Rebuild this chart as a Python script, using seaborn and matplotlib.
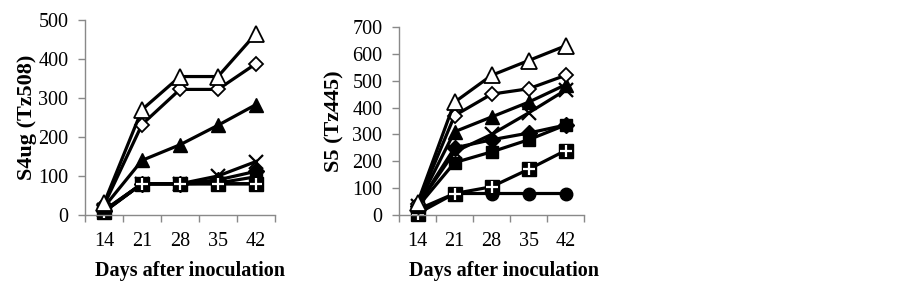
import numpy as np
import pandas as pd
import matplotlib
matplotlib.use("Agg")
import matplotlib.pyplot as plt
import seaborn as sns

days = ["14", "21", "28", "35", "42"]

# S4ug (Tz508)
s4_open_tri = [30, 270, 355, 355, 465]
s4_open_dia = [25, 232, 322, 322, 388]
s4_fill_tri = [20, 140, 180, 230, 283]
s4_cross = [12, 80, 80, 100, 137]
s4_fill_dia = [10, 80, 80, 90, 112]
s4_fill_sq = [10, 80, 80, 82, 98]
s4_circle = [8, 80, 80, 80, 80]
s4_sq_plus = [8, 80, 80, 80, 80]

# S5 (Tz445)
s5_open_tri = [45, 420, 520, 575, 630]
s5_open_dia = [40, 370, 450, 470, 520]
s5_fill_tri = [38, 310, 365, 420, 485]
s5_cross = [35, 235, 300, 380, 465]
s5_fill_dia = [35, 250, 280, 305, 335]
s5_fill_sq = [30, 195, 235, 280, 335]
s5_circle = [20, 80, 80, 80, 80]
s5_sq_plus = [5, 80, 105, 170, 240]

plt.rcParams['font.family'] = ['Liberation Serif', 'DejaVu Serif']

# marker, face colour, size, edge width
styles = {
    'open_tri': ('^', 'white', 11, 1.3),
    'open_dia': ('D', 'white', 7.5, 1.3),
    'fill_tri': ('^', 'black', 10, 1.0),
    'cross': ('x', 'black', 10, 1.6),
    'fill_dia': ('D', 'black', 8, 1.0),
    'fill_sq': ('s', 'black', 9, 1.0),
    'circle': ('o', 'black', 9, 1.0),
    'sq_plus': ('s', 'black', 10, 1.0),
}

panels = [
    ("S4ug (Tz508)", 500, 100, [0.0941, 0.2483, 0.2104, 0.6818],
     {'circle': s4_circle, 'fill_sq': s4_fill_sq, 'fill_dia': s4_fill_dia, 'cross': s4_cross,
      'sq_plus': s4_sq_plus, 'fill_tri': s4_fill_tri, 'open_dia': s4_open_dia, 'open_tri': s4_open_tri},
     (0.553, -0.235), (-0.255, 0.5)),
    ("S5 (Tz445)", 700, 100, [0.4419, 0.2483, 0.2049, 0.6573],
     {'circle': s5_circle, 'sq_plus': s5_sq_plus, 'fill_sq': s5_fill_sq, 'fill_dia': s5_fill_dia,
      'cross': s5_cross, 'fill_tri': s5_fill_tri, 'open_dia': s5_open_dia, 'open_tri': s5_open_tri},
     (0.565, -0.245), (-0.295, 0.5)),
]

fig = plt.figure(figsize=(9.03, 2.86), dpi=100)
grey = '#898989'

for ylab, ymax, ystep, rect, series, xl, yl in panels:
    ax = fig.add_axes(rect)
    for name, vals in series.items():
        m, fc, ms, mew = styles[name]
        df = pd.DataFrame({'pos': np.arange(len(days)), 'val': vals})
        sns.lineplot(data=df, x='pos', y='val', ax=ax, color='black', linewidth=2.3,
                     marker=m, markersize=ms, markerfacecolor=fc, markeredgecolor='black',
                     markeredgewidth=mew, clip_on=False)
        if name == 'sq_plus':
            ax.plot(df['pos'], df['val'], linestyle='none', marker='+', markersize=8,
                    markeredgecolor='white', markeredgewidth=1.6, clip_on=False)
    ax.set_xlim(-0.5, len(days) - 0.5)
    ax.set_ylim(0, ymax)
    ax.set_yticks(np.arange(0, ymax + 1, ystep))
    ax.set_xticks(np.arange(-0.5, len(days), 1.0))
    ax.set_xticklabels([])
    ax.set_xticks(np.arange(len(days)), minor=True)
    ax.set_xticklabels(days, minor=True)
    ax.tick_params(axis='x', which='major', direction='out', length=5, color=grey, width=1)
    ax.tick_params(axis='x', which='minor', length=0, pad=12, labelsize=14.5)
    ax.tick_params(axis='y', direction='out', length=5, color=grey, width=1, pad=7, labelsize=14.5)
    for s in ['top', 'right']:
        ax.spines[s].set_visible(False)
    for s in ['left', 'bottom']:
        ax.spines[s].set_color(grey)
        ax.spines[s].set_linewidth(1)
    ax.set_xlabel("Days after inoculation", fontsize=14.5, fontweight='bold')
    ax.set_ylabel(ylab, fontsize=16, fontweight='bold')
    ax.xaxis.set_label_coords(*xl)
    ax.yaxis.set_label_coords(*yl)

fig.savefig("out.png", dpi=100)
